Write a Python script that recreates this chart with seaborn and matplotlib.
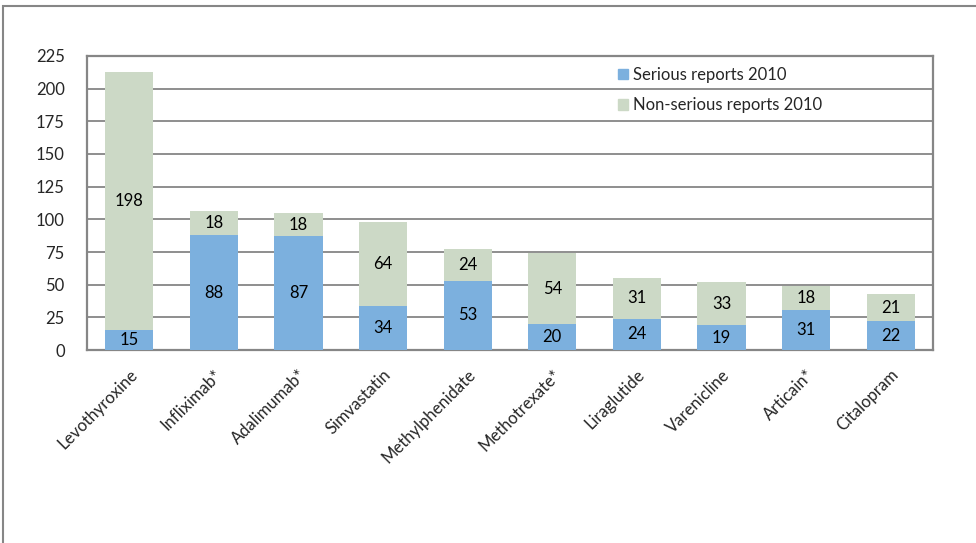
"""
Stacked bars of serious / non-serious adverse drug reaction reports, 2010
"""

import matplotlib
matplotlib.use('Agg')
import matplotlib.pyplot as plt
import matplotlib.patches as mpatches
import pandas as pd
import seaborn as sns

drugs = ['Levothyroxine', 'Infliximab*', 'Adalimumab*', 'Simvastatin',
         'Methylphenidate', 'Methotrexate*', 'Liraglutide', 'Varenicline',
         'Articain*', 'Citalopram']
serious = [15, 88, 87, 34, 53, 20, 24, 19, 31, 22]
non_serious = [198, 18, 18, 64, 24, 54, 31, 33, 18, 21]

BLUE = '#7cb0de'
GREEN = '#ccd9c6'
GRID = '#868686'


def main():
    sns.set_style('white')
    plt.rcParams['font.family'] = ['Lato', 'DejaVu Sans']

    df = pd.DataFrame({'Drug': drugs, 'Serious': serious,
                       'NonSerious': non_serious})
    df['Total'] = df['Serious'] + df['NonSerious']

    fig = plt.figure(figsize=(9.76, 5.43), dpi=100)
    ax = fig.add_axes([0.0891, 0.3554, 0.8668, 0.5415])

    # green bar is the total, blue bar drawn over it -> stacked look
    sns.barplot(ax=ax, data=df, x='Drug', y='Total', color=GREEN,
                saturation=1, width=0.57, linewidth=0, zorder=3)
    sns.barplot(ax=ax, data=df, x='Drug', y='Serious', color=BLUE,
                saturation=1, width=0.57, linewidth=0, zorder=3)

    # value labels centred in each segment
    for i, row in df.iterrows():
        ax.text(i, row['Serious'] / 2, str(row['Serious']), ha='center',
                va='center', fontsize=12, color='black', zorder=4)
        ax.text(i, row['Serious'] + row['NonSerious'] / 2,
                str(row['NonSerious']), ha='center', va='center',
                fontsize=12, color='black', zorder=4)

    ax.set_ylim(0, 225)
    ax.set_xlim(-0.5, len(drugs) - 0.5)
    ax.set_yticks(range(0, 226, 25))
    ax.yaxis.grid(True, color=GRID, linewidth=1.3, zorder=0)
    ax.set_axisbelow(True)
    ax.set_xlabel('')
    ax.set_ylabel('')
    for sp in ax.spines.values():
        sp.set_visible(True)
        sp.set_color(GRID)
        sp.set_linewidth(1.6)

    ax.tick_params(axis='y', length=0, pad=16, labelsize=12)
    ax.tick_params(axis='x', length=0, pad=12, labelsize=12)
    plt.setp(ax.get_xticklabels(), rotation=45, ha='right',
             rotation_mode='anchor')

    handles = [mpatches.Patch(color=BLUE, label='Serious reports 2010'),
               mpatches.Patch(color=GREEN, label='Non-serious reports 2010')]
    ax.legend(handles=handles, loc='upper left', bbox_to_anchor=(0.62, 0.985),
              frameon=False, fontsize=12, handlelength=0.6,
              handleheight=0.6, handletextpad=0.3, labelspacing=0.85,
              borderaxespad=0)

    # outer chart border (cropped at right and bottom)
    fig.patches.append(mpatches.Rectangle((3 / 976, -0.05), 1.1, 1 - 6 / 543 + 0.05,
                                          transform=fig.transFigure,
                                          fill=False, edgecolor=GRID,
                                          linewidth=1.5))

    fig.savefig('out.png', dpi=100)


if __name__ == '__main__':
    main()
